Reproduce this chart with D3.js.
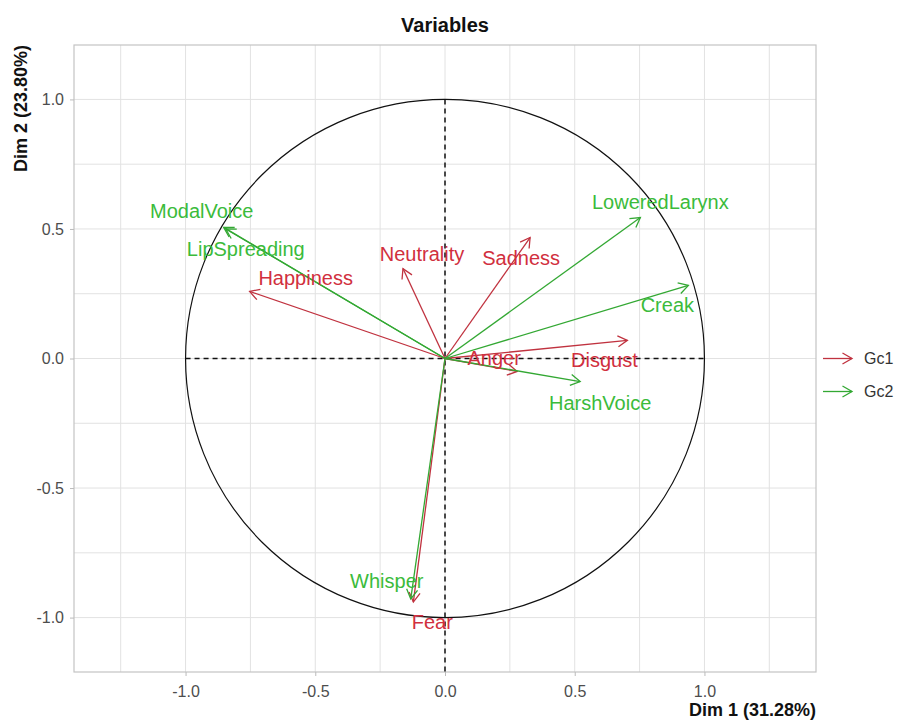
<!DOCTYPE html>
<html>
<head>
<meta charset="utf-8">
<script src="https://cdn.jsdelivr.net/npm/d3@7"></script>
<style>
  body { margin: 0; background: #fff; }
  text { font-family: "Liberation Sans", Arial, sans-serif; }
</style>
</head>
<body>
<svg id="chart" width="897" height="722"></svg>
<script>
// data
const variables = ["Happiness", "Neutrality", "Sadness", "Disgust", "Anger", "Fear",
                   "ModalVoice", "LipSpreading", "LoweredLarynx", "Creak", "HarshVoice", "Whisper"];
const dim1 = [-0.753, -0.162, 0.328, 0.703, 0.278, -0.122, -0.853, -0.845, 0.753, 0.938, 0.521, -0.132];
const dim2 = [0.259, 0.347, 0.467, 0.070, -0.050, -0.940, 0.506, 0.500, 0.544, 0.282, -0.089, -0.928];
const groups = ["Gc1", "Gc1", "Gc1", "Gc1", "Gc1", "Gc1", "Gc2", "Gc2", "Gc2", "Gc2", "Gc2", "Gc2"];
const groupNames = ["Gc1", "Gc2"];
const tickValues = [-1.0, -0.5, 0.0, 0.5, 1.0];
const minorTicks = [-1.25, -0.75, -0.25, 0.25, 0.75, 1.25];

// label offsets from arrow tip (px), mimics repel placement
const labelNudge = {
    Happiness: [56, -13], Neutrality: [19, -15], Sadness: [-9, 20], Disgust: [-23, 20],
    Anger: [-23, -13], Fear: [19, 20], ModalVoice: [-22, -16], LipSpreading: [20, 20],
    LoweredLarynx: [20, -16], Creak: [-21, 20], HarshVoice: [20, 21], Whisper: [-24, -18]
};

const svg = d3.select("#chart");
const margin = { top: 45, left: 74, right: 81, bottom: 50 };
const innerWidth = 897 - margin.left - margin.right;
const innerHeight = 722 - margin.top - margin.bottom;

const x = d3.scaleLinear().domain([-1.43, 1.43]).range([0, innerWidth]);
const y = d3.scaleLinear().domain([-1.21, 1.21]).range([innerHeight, 0]);
const color = d3.scaleOrdinal().domain(groupNames).range(["#d12f3e", "#3bbb3b"]);
const lineColor = d3.scaleOrdinal().domain(groupNames).range(["#c0323f", "#33a833"]);

const g = svg.append("g").attr("transform", `translate(${margin.left},${margin.top})`);

// grid
const grid = g.append("g");
grid.selectAll(".vx").data(tickValues.concat(minorTicks)).enter().append("line")
    .attr("x1", d => x(d)).attr("x2", d => x(d)).attr("y1", 0).attr("y2", innerHeight)
    .attr("stroke", "#e2e2e2").attr("stroke-width", 1);
grid.selectAll(".hy").data(tickValues.concat(minorTicks.filter(d => Math.abs(d) < 1.2))).enter().append("line")
    .attr("y1", d => y(d)).attr("y2", d => y(d)).attr("x1", 0).attr("x2", innerWidth)
    .attr("stroke", "#e2e2e2").attr("stroke-width", 1);

g.append("rect").attr("width", innerWidth).attr("height", innerHeight)
    .attr("fill", "none").attr("stroke", "#c4c4c4").attr("stroke-width", 1.2);

// axes
const xAxis = g.append("g").attr("transform", `translate(0,${innerHeight})`)
    .call(d3.axisBottom(x).tickValues(tickValues).tickFormat(d3.format(".1f")).tickSize(4).tickPadding(10));
const yAxis = g.append("g")
    .call(d3.axisLeft(y).tickValues(tickValues).tickFormat(d3.format(".1f")).tickSize(4).tickPadding(6));
[xAxis, yAxis].forEach(a => {
    a.select(".domain").remove();
    a.selectAll(".tick line").attr("stroke", "#bbb");
    a.selectAll(".tick text").attr("fill", "#4d4d4d").style("font-size", "16px")
        .style("font-family", "'Liberation Sans', Arial, sans-serif")
        .text(d => d3.format(".1f")(d).replace("−", "-"));
});

// circle and dashed axes
g.append("ellipse").attr("cx", x(0)).attr("cy", y(0))
    .attr("rx", x(1) - x(0)).attr("ry", y(0) - y(1))
    .attr("fill", "none").attr("stroke", "#111").attr("stroke-width", 1.2);
g.append("line").attr("x1", x(-1)).attr("x2", x(1)).attr("y1", y(0)).attr("y2", y(0))
    .attr("stroke", "#111").attr("stroke-width", 1.5).attr("stroke-dasharray", "5,4");
g.append("line").attr("x1", x(0)).attr("x2", x(0)).attr("y1", y(1)).attr("y2", innerHeight)
    .attr("stroke", "#111").attr("stroke-width", 1.5).attr("stroke-dasharray", "5,4");

function arrowHead(x1, y1, x2, y2) {
    const a = Math.atan2(y2 - y1, x2 - x1);
    const len = 11, spread = Math.PI / 6;
    const p1 = [x2 - len * Math.cos(a - spread), y2 - len * Math.sin(a - spread)];
    const p2 = [x2 - len * Math.cos(a + spread), y2 - len * Math.sin(a + spread)];
    return `M${p1[0]},${p1[1]} L${x2},${y2} L${p2[0]},${p2[1]}`;
}

// arrows
const arrows = g.append("g");
variables.forEach((v, i) => {
    const gx = x(dim1[i]), gy = y(dim2[i]);
    const c = lineColor(groups[i]);
    arrows.append("line").attr("x1", x(0)).attr("y1", y(0)).attr("x2", gx).attr("y2", gy)
        .attr("stroke", c).attr("stroke-width", 1.3);
    arrows.append("path").attr("d", arrowHead(x(0), y(0), gx, gy))
        .attr("fill", "none").attr("stroke", c).attr("stroke-width", 1.3);
});

// labels
variables.forEach((v, i) => {
    const off = labelNudge[v];
    g.append("text")
        .attr("x", x(dim1[i]) + off[0]).attr("y", y(dim2[i]) + off[1])
        .attr("text-anchor", "middle").attr("dominant-baseline", "central")
        .attr("fill", color(groups[i])).style("font-size", "20px")
        .text(v);
});

// titles
svg.append("text").attr("x", margin.left + innerWidth / 2).attr("y", 32)
    .attr("text-anchor", "middle").style("font-size", "20px").style("font-weight", "bold")
    .attr("fill", "#111").text("Variables");
svg.append("text").attr("x", margin.left + innerWidth).attr("y", 716)
    .attr("text-anchor", "end").style("font-size", "18px").style("font-weight", "bold")
    .attr("fill", "#111").text("Dim 1 (31.28%)");
svg.append("text").attr("transform", `translate(27,${margin.top}) rotate(-90)`)
    .attr("text-anchor", "end").style("font-size", "18px").style("font-weight", "bold")
    .attr("fill", "#111").text("Dim 2 (23.80%)");

// legend
const legend = svg.append("g").attr("transform", `translate(823,${margin.top + y(0)})`);
groupNames.forEach((name, i) => {
    const ly = i * 33;
    legend.append("line").attr("x1", 0).attr("x2", 29).attr("y1", ly).attr("y2", ly)
        .attr("stroke", lineColor(name)).attr("stroke-width", 1.3);
    legend.append("path").attr("d", arrowHead(0, ly, 29, ly))
        .attr("fill", "none").attr("stroke", lineColor(name)).attr("stroke-width", 1.3);
    legend.append("text").attr("x", 41).attr("y", ly).attr("dominant-baseline", "central")
        .style("font-size", "16px").attr("fill", "#333").text(name);
});
</script>
</body>
</html>
